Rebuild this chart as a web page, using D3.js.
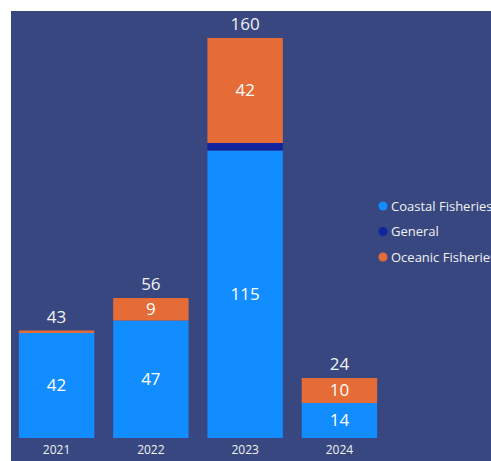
<!DOCTYPE html>
<html>
<head>
<meta charset="utf-8">
<script src="https://cdn.jsdelivr.net/npm/d3@7"></script>
<style>
  html, body { margin: 0; padding: 0; background: #ffffff; overflow: hidden; }
  svg { display: block; font-family: "Open Sans", "Segoe UI", sans-serif; }
</style>
</head>
<body>
<div id="chart"></div>
<script>
// data
const years = ["2021", "2022", "2023", "2024"];
const seriesNames = ["Coastal Fisheries", "General", "Oceanic Fisheries"];
const coastal = [42, 47, 115, 14];
const general = [0, 0, 3, 0];
const oceanic = [1, 9, 42, 10];
const colors = ["#118DFF", "#12239E", "#E66C37"];

const width = 491, height = 461;

const svg = d3.select("#chart").append("svg")
    .attr("width", width)
    .attr("height", height);

// navy panel, runs off the right and bottom edges
svg.append("rect")
    .attr("x", 11).attr("y", 11)
    .attr("width", width).attr("height", height)
    .attr("fill", "#384780");

const table = years.map((y, i) => ({
    year: y,
    "Coastal Fisheries": coastal[i],
    "General": general[i],
    "Oceanic Fisheries": oceanic[i]
}));

const stacked = d3.stack().keys(seriesNames)(table);

const xScale = d3.scaleBand()
    .domain(years)
    .range([0, 396])
    .padding(0.2);

const yScale = d3.scaleLinear()
    .domain([0, 160])
    .range([438, 38]);

const cScale = d3.scaleOrdinal()
    .domain(seriesNames)
    .range(colors);

// bars
svg.append("g")
    .selectAll("g")
    .data(stacked)
    .join("g")
    .attr("fill", d => cScale(d.key))
    .selectAll("rect")
    .data(d => d)
    .join("rect")
    .attr("x", d => xScale(d.data.year))
    .attr("y", d => yScale(d[1]))
    .attr("width", xScale.bandwidth())
    .attr("height", d => yScale(d[0]) - yScale(d[1]));

// segment labels (only where there is room)
stacked.forEach(s => {
    svg.append("g")
        .selectAll("text")
        .data(s.filter(d => d[1] - d[0] >= 8))
        .join("text")
        .attr("x", d => xScale(d.data.year) + xScale.bandwidth() / 2)
        .attr("y", d => (yScale(d[0]) + yScale(d[1])) / 2)
        .attr("dy", "0.35em")
        .attr("text-anchor", "middle")
        .attr("fill", "#ffffff")
        .attr("font-size", 17)
        .text(d => d[1] - d[0]);
});

// totals above bars
svg.append("g")
    .selectAll("text")
    .data(table)
    .join("text")
    .attr("x", d => xScale(d.year) + xScale.bandwidth() / 2)
    .attr("y", d => yScale(d["Coastal Fisheries"] + d["General"] + d["Oceanic Fisheries"]) - 8)
    .attr("text-anchor", "middle")
    .attr("fill", "#f2f2f2")
    .attr("font-size", 17)
    .text(d => d["Coastal Fisheries"] + d["General"] + d["Oceanic Fisheries"]);

// x axis
const xAxis = svg.append("g")
    .attr("transform", "translate(0,438)")
    .call(d3.axisBottom(xScale).tickSize(0).tickPadding(7));
xAxis.select(".domain").remove();
xAxis.selectAll("text")
    .attr("fill", "#f2f2f2")
    .attr("font-size", 12)
    .attr("font-family", "Open Sans, sans-serif");

// legend
const legend = svg.append("g")
    .selectAll("g")
    .data(seriesNames)
    .join("g")
    .attr("transform", (d, i) => `translate(383,${206 + i * 25.5})`);

legend.append("circle")
    .attr("r", 4.5)
    .attr("fill", d => cScale(d));

legend.append("text")
    .attr("x", 8)
    .attr("dy", "0.35em")
    .attr("fill", "#f2f2f2")
    .attr("font-size", 13)
    .text(d => d);
</script>
</body>
</html>
